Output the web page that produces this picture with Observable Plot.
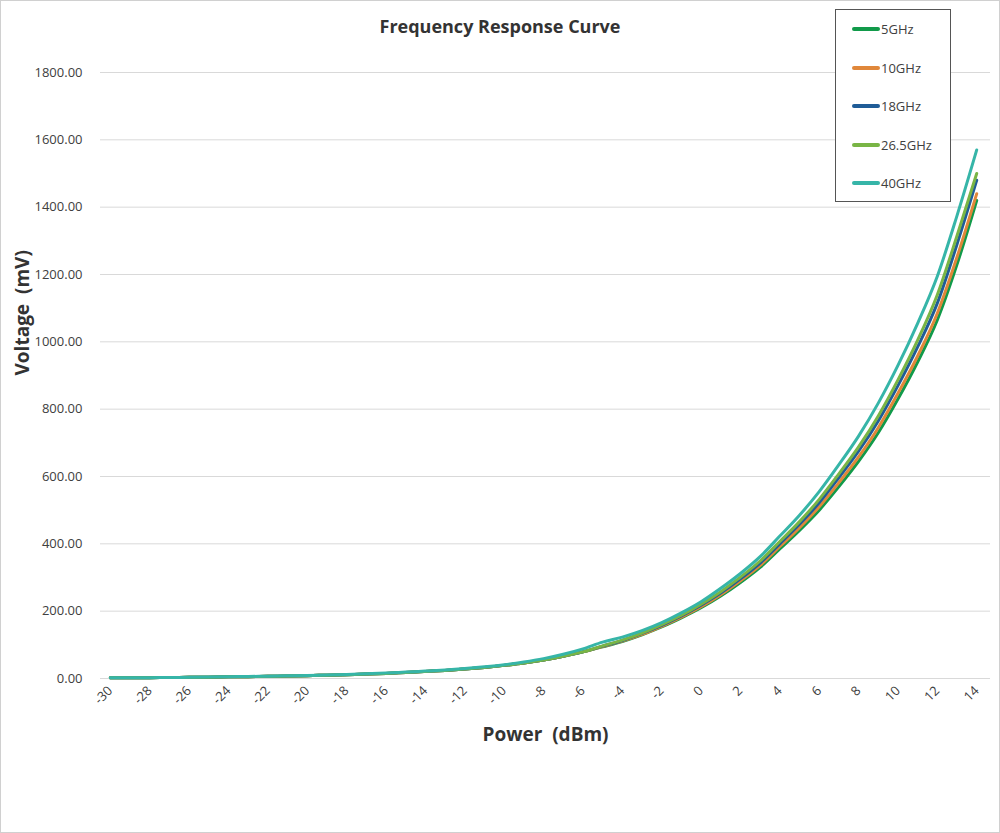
<!DOCTYPE html>
<html><head><meta charset="utf-8">
<script src="https://cdn.jsdelivr.net/npm/d3@7"></script>
<script src="https://cdn.jsdelivr.net/npm/@observablehq/plot@0.6"></script>
<style>
body{margin:0;background:#fff;font-family:"Open Sans","Noto Sans",sans-serif}
#wrap{position:relative;width:1000px;height:833px}
#frame{position:absolute;left:0;top:0;width:998px;height:831px;border:1px solid #d0d0d0;pointer-events:none}
#title{position:absolute;top:14px;left:0;width:1000px;text-align:center;font-weight:bold;font-size:18px;color:#333}
#legend{position:absolute;left:835px;top:9px;width:114px;height:191px;border:1px solid #555;background:#fff}
.li{position:absolute;left:16px;font-size:13px;color:#404040;display:flex;align-items:center}
.li span{display:inline-block;width:28px;height:4px;margin-right:1px;border-radius:2px}
</style></head><body>
<div id="wrap"><div id="chart"></div><div id="title">Frequency Response Curve</div><div id="legend"></div><div id="frame"></div></div>
<script>
const power = d3.range(-30, 15);
const seriesNames = ["5GHz","10GHz","18GHz","26.5GHz","40GHz"];
const colors = ["#119a4a","#e0873a","#1f5c97","#79b545","#36b5a8"];
const low = [2,2,2.5,3,3.5,4,5,5.5,6.5,7.5,8.5,10,11.5,13,15,18,21,24,28,33,39,46,55,66,79];
const v5   = [...low, 94,110,130,153,180,210,245,285,330,385,440,500,570,645,730,830,940,1065,1230,1420];
const v10  = [...low, 95,111,131,155,182,213,249,290,336,392,448,510,582,658,745,847,958,1085,1252,1440];
const v18  = [...low, 96,113,134,158,186,218,254,296,343,400,458,522,597,675,765,870,985,1115,1290,1480];
const v265 = [...low, 97,114,135,160,188,221,258,301,349,407,466,532,608,688,780,887,1005,1140,1315,1500];
const v40  = [2,2,2.5,3,3.5,4.5,5.5,6,7,8,9,10.5,12,14,16,19,22,25.5,30,35,41,49,59,72,88, 108,123,142,166,195,228,268,312,362,423,485,555,635,720,818,930,1055,1195,1375,1570];
const allVals = [v5,v10,v18,v265,v40];
const data = [];
seriesNames.forEach((s,i)=>power.forEach((p,j)=>data.push({s,p,v:allVals[i][j]})));
const yTicks = d3.range(0,1801,200);
const xTicks = d3.range(-30,15,2);

const chart = Plot.plot({
  width:1000,height:833,marginTop:72,marginBottom:155,marginLeft:100,marginRight:10,
  style:{fontFamily:'"Open Sans","Noto Sans",sans-serif',fontSize:"13px",color:"#404040"},
  x:{domain:[-30.5,14.7],label:null},
  y:{domain:[0,1800],label:null},
  color:{domain:seriesNames,range:colors},
  marks:[
    Plot.gridY(yTicks,{stroke:"#d9d9d9",strokeOpacity:1}),
    Plot.ruleY([0],{stroke:"#d9d9d9"}),
    Plot.axisX({ticks:xTicks,tickSize:0,tickRotate:-45,tickPadding:10,label:null,fontSize:13,tickFormat:d=>String(d)}),
    Plot.axisY({ticks:yTicks,tickSize:0,tickPadding:18,tickFormat:d=>d.toFixed(2),label:null,fontSize:13}),
    Plot.line(data,{x:"p",y:"v",z:"s",stroke:"s",strokeWidth:3,curve:"monotone-x"}),
    Plot.text(["Power  (dBm)"],{frameAnchor:"bottom",dy:62,fontSize:19,fontWeight:"bold",fill:"#333"}),
    Plot.text(["Voltage  (mV)"],{frameAnchor:"left",dx:-78,rotate:-90,fontSize:19,fontWeight:"bold",fill:"#333"})
  ]
});
document.getElementById("chart").appendChild(chart);
const lg = document.getElementById("legend");
seriesNames.forEach((s,i)=>{
  const d=document.createElement("div");d.className="li";d.style.top=(10+i*38.5)+"px";
  d.innerHTML=`<span style="background:${colors[i]}"></span>${s}`;lg.appendChild(d);
});
</script></body></html>
